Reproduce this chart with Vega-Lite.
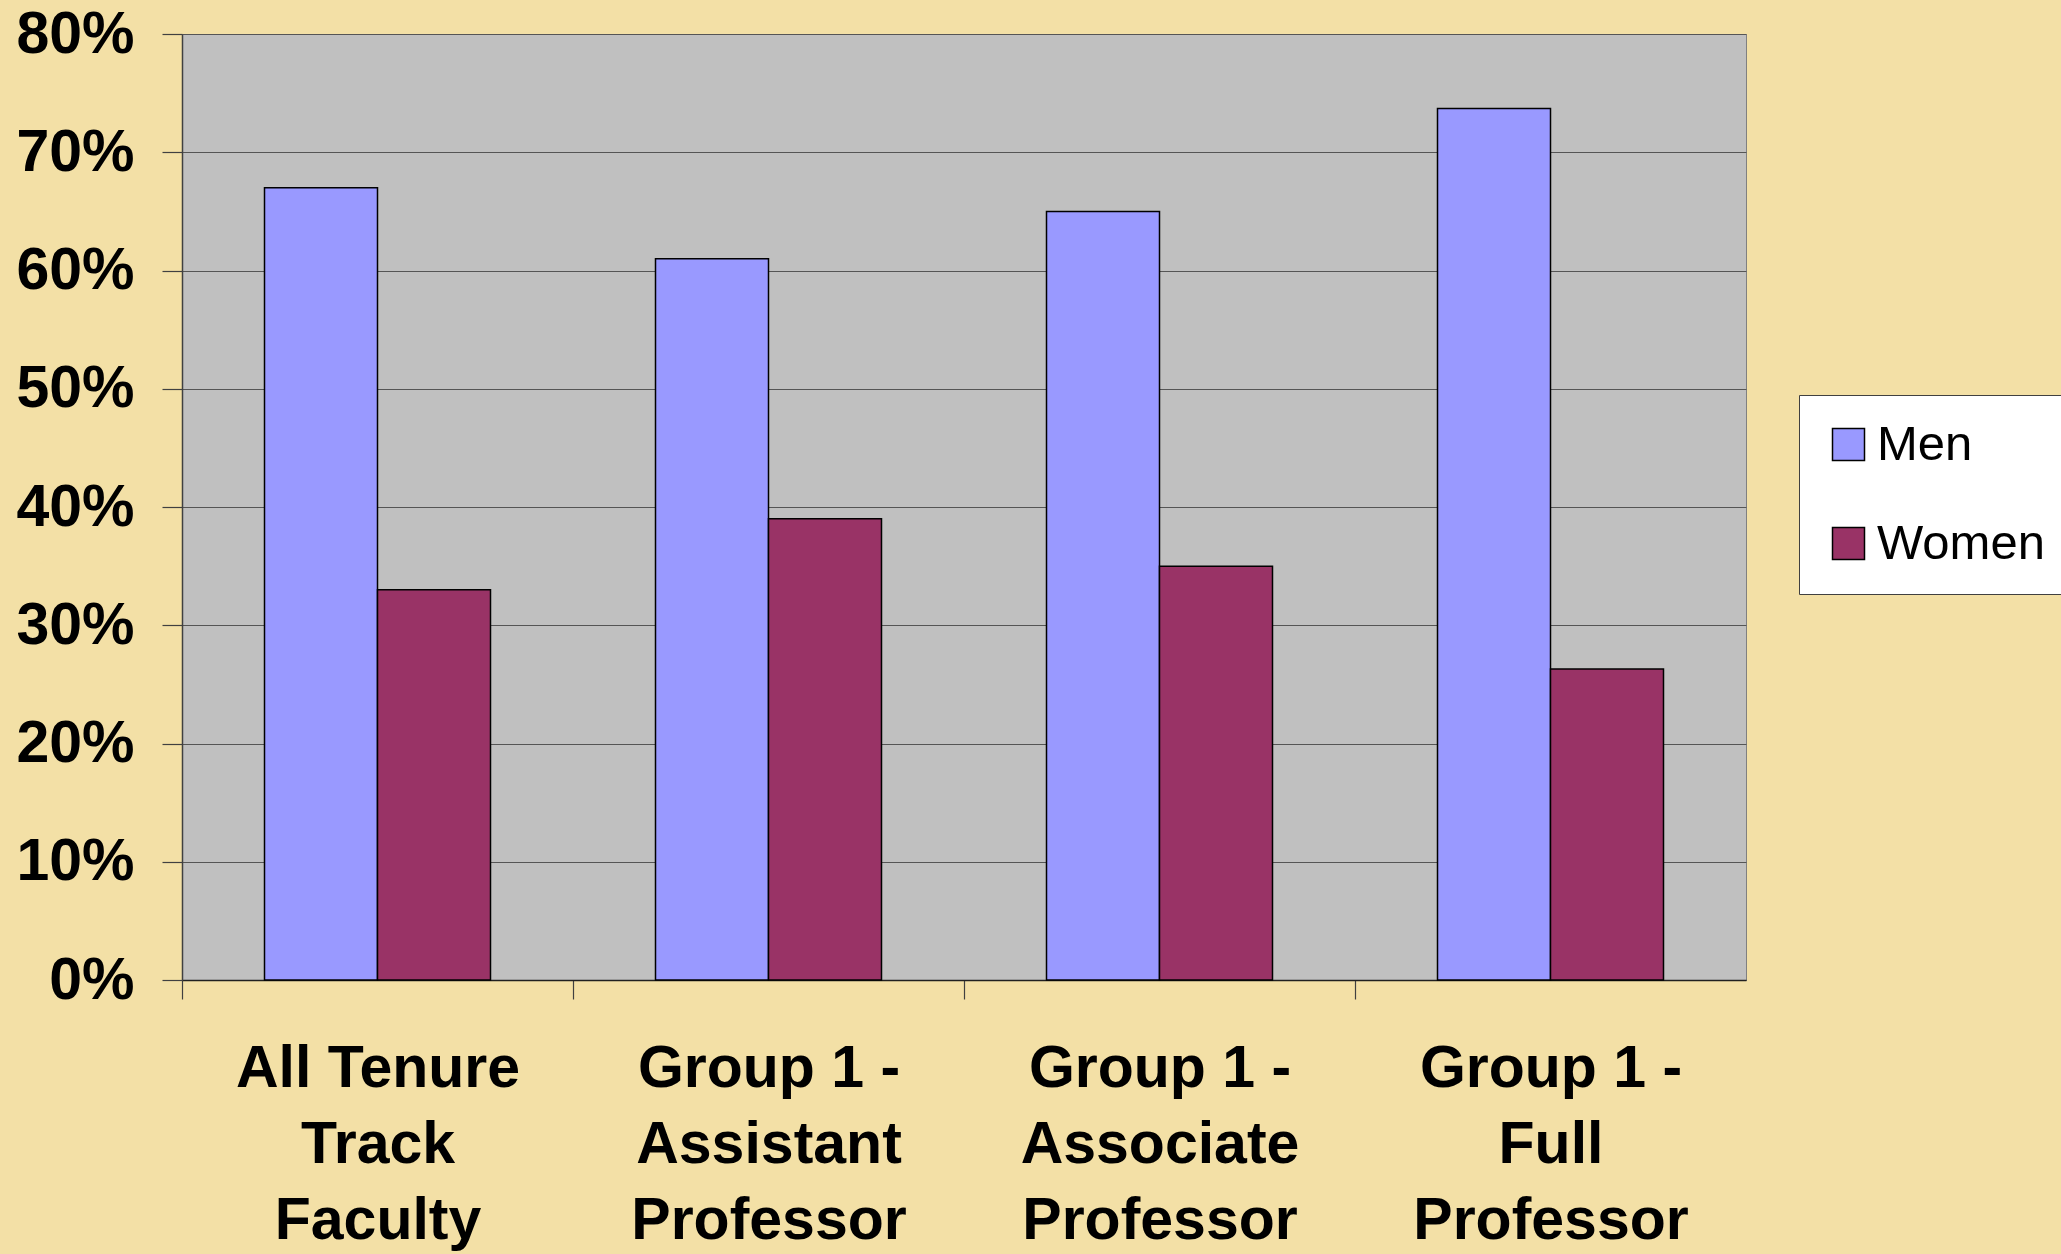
{
  "$schema": "https://vega.github.io/schema/vega-lite/v6.json",
  "width": 1564,
  "height": 946,
  "autosize": {"type": "none"},
  "padding": {"left": 182, "top": 34, "right": 315, "bottom": 274},
  "background": "#F3E0A6",
  "data": {
    "values": [
      {"category": "All Tenure Track Faculty", "sex": "Men", "value": 67},
      {"category": "All Tenure Track Faculty", "sex": "Women", "value": 33},
      {"category": "Group 1 - Assistant Professor", "sex": "Men", "value": 61},
      {"category": "Group 1 - Assistant Professor", "sex": "Women", "value": 39},
      {"category": "Group 1 - Associate Professor", "sex": "Men", "value": 65},
      {"category": "Group 1 - Associate Professor", "sex": "Women", "value": 35},
      {"category": "Group 1 - Full Professor", "sex": "Men", "value": 73.7},
      {"category": "Group 1 - Full Professor", "sex": "Women", "value": 26.3}
    ]
  },
  "config": {
    "font": "Liberation Sans",
    "view": {"fill": "#C0C0C0", "stroke": "#808080", "strokeWidth": 1}
  },
  "mark": {"type": "bar", "stroke": "#000000", "strokeWidth": 1.5},
  "encoding": {
    "x": {
      "field": "category",
      "type": "nominal",
      "sort": null,
      "scale": {"paddingInner": 0.422, "paddingOuter": 0.211},
      "axis": {
        "title": null,
        "labelAngle": 0,
        "bandPosition": 0,
        "tickOffset": -82.5,
        "labelOffset": 82.5,
        "labelFont": "Liberation Sans",
        "labelFontWeight": "bold",
        "labelFontSize": 59,
        "labelColor": "#000000",
        "labelLineHeight": 76,
        "labelPadding": 40,
        "labelLimit": 0,
        "labelBaseline": "top",
        "tickSize": 19,
        "tickColor": "#404040",
        "tickWidth": 1.2,
        "domainColor": "#202020",
        "domainWidth": 1.5,
        "labelExpr": "indexof(datum.label, 'Group 1 - ') === 0 ? ['Group 1 -', replace(replace(datum.label, 'Group 1 - ', ''), ' Professor', ''), 'Professor'] : ['All Tenure', 'Track', 'Faculty']"
      }
    },
    "xOffset": {"field": "sex", "type": "nominal", "sort": ["Men", "Women"], "scale": {"paddingInner": 0, "paddingOuter": 0}},
    "y": {
      "field": "value",
      "type": "quantitative",
      "scale": {"domain": [0, 80], "nice": false},
      "axis": {
        "title": null,
        "values": [0, 10, 20, 30, 40, 50, 60, 70, 80],
        "labelExpr": "datum.value + '%'",
        "labelFont": "Liberation Sans",
        "labelFontWeight": "bold",
        "labelFontSize": 59,
        "labelColor": "#000000",
        "labelPadding": 28,
        "tickSize": 20,
        "tickColor": "#404040",
        "tickWidth": 1.2,
        "domainColor": "#404040",
        "domainWidth": 1.5,
        "gridColor": "#555555",
        "gridWidth": 1.2
      }
    },
    "color": {
      "field": "sex",
      "type": "nominal",
      "scale": {"domain": ["Men", "Women"], "range": ["#9999FF", "#993366"]},
      "legend": {
        "title": null,
        "orient": "none",
        "legendX": 1617,
        "legendY": 361,
        "fillColor": "#FFFFFF",
        "strokeColor": "#404040",
        "padding": 25,
        "symbolType": "square",
        "symbolSize": 1024,
        "symbolStrokeColor": "#000000",
        "symbolStrokeWidth": 1.5,
        "symbolOpacity": 1,
        "labelFont": "Liberation Sans",
        "labelFontSize": 49,
        "labelColor": "#000000",
        "labelOffset": 4,
        "labelLimit": 0,
        "rowPadding": 49
      }
    }
  }
}
